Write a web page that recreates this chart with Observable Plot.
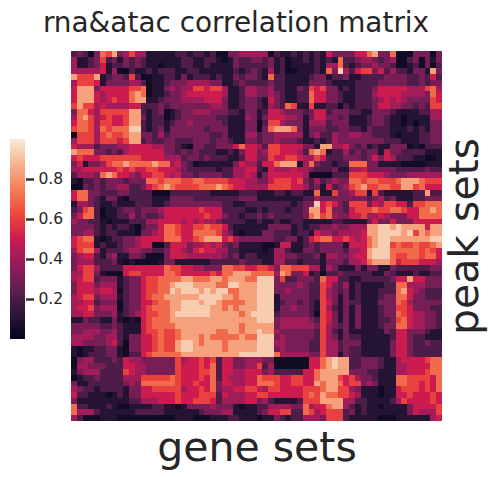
<!DOCTYPE html>
<html><head><meta charset="utf-8">
<script src="https://cdn.jsdelivr.net/npm/d3@7"></script>
<script src="https://cdn.jsdelivr.net/npm/@observablehq/plot@0.6"></script>
<style>html,body{margin:0;padding:0;background:#fff}#c{position:relative;width:497px;height:477px}svg{position:absolute;overflow:visible;background:transparent!important}</style>
</head><body><div id="c"></div><script>
const titleText = "rna&atac correlation matrix";
const xLabel = "gene sets";
const yLabel = "peak sets";
const colorbarTicks = [0.2, 0.4, 0.6, 0.8];
const rocketStops = [0, 0.125, 0.25, 0.375, 0.5, 0.625, 0.75, 0.875, 1];
const rocketColors = ["#03051a", "#2e1739", "#611f53", "#971c5b", "#cb1b4f", "#ef4a3c", "#f47f57", "#f6b48f", "#faebdd"];
// one digit per cell: tenths of the correlation
const matrixRows = [
"23203768 34644111 11221221 20033444 44021121 21215333 35578337 00033303",
"41123623 13232111 11122112 21013223 32312011 21212172 23443234 00230313",
"41123512 23232110 11122112 11113222 22312011 11214472 12334332 00120302",
"44444514 00211212 22112211 11112123 21412001 11217394 25663524 22133183",
"86668123 32620011 22131222 12113233 21722111 12331223 11222233 33223252",
"46665133 33442011 23334444 33112322 22322111 13332111 12222333 33223233",
"58883555 55667011 34344665 66411244 33422113 26563312 12223555 55444674",
"58885455 55787011 23345555 55411244 33432112 27553321 12224555 54444375",
"58885456 55788112 33344445 55311233 21532112 27553321 12223454 54333365",
"68664544 44552223 23333333 44311233 21432761 16112202 12223554 43323266",
"37754666 66882123 01233444 33322133 12554333 23552333 22113332 11112244",
"47864565 56883122 01233333 32211143 13555443 13553323 11123321 10111144",
"57764665 56882122 12334333 33211133 02664333 14442333 11123321 10101133",
"67764767 77992123 13333332 33311133 03788873 13332233 22132221 11212133",
"06664676 67883324 23333333 22311144 23344444 13422433 44332221 01112233",
"46664666 56882322 33222333 23321133 23343332 11212433 33333322 21112233",
"54442333 44555544 33210332 23335755 42665555 33188445 32312113 33010222",
"87773323 24555555 33232322 21121355 34665554 27871224 23233153 32222111",
"56555666 66665555 44423323 22211255 33655665 44652223 33235354 22211001",
"35133467 78777787 74532011 11113544 25578881 47322122 77733111 10000111",
"44555555 65655665 55432222 21224455 21544454 43222311 44533333 22222322",
"24443787 55435566 54533233 33224454 13555555 40000222 66655543 33444444",
"10223233 32333776 77766776 66655544 33566656 32423433 77677666 78887666",
"00323233 44223567 87666677 78765544 44666655 42315234 67866776 68867555",
"57733222 33222200 02222222 11111222 11122122 11711633 46616211 11122822",
"57732133 10222211 13333222 22222333 11111111 22433333 33323423 11122333",
"14432112 11122211 23333333 33221122 22222212 33956532 66635466 55266777",
"23672011 23323334 55555565 55222211 21222122 38857332 56667667 76557787",
"35772011 22423223 55555556 55322122 32322222 37867433 55644543 33557777",
"43322101 11222445 55545454 43222211 21121122 11111221 11135335 33355555",
"33332121 22102335 77655667 66521111 11333312 12233433 44488998 98888588",
"33442122 11103345 77655777 76431011 13322212 21544344 44588999 98968788",
"56771012 23345555 77755678 88564333 33322331 25677556 54578998 88888899",
"56661211 23345500 25553445 45323111 10015511 23233331 55578996 76676678",
"46774122 23443322 35543565 54422111 10144211 33233332 44589997 77776765",
"34552134 11332000 35554444 44323122 11144332 22314433 45589997 66776775",
"34442223 10100001 33111111 22222322 21144221 22213332 44578887 56665554",
"35664222 25555555 76655443 33776655 66537766 64414311 13133113 22222233",
"44663100 05665555 77655555 65778887 77748733 51202232 22221132 11121122",
"45662333 12335667 77788777 88788877 99936223 33275522 11222223 55855333",
"35553444 12335667 78999888 87799888 99933334 32265324 12111122 77444333",
"35554554 02335667 79899989 89977888 99933433 32264323 12111222 78543222",
"45663444 12335677 88888899 99887888 99913333 32264313 12111233 77533222",
"44552333 02335567 78899989 98777788 99912332 32165313 22111333 76433333",
"45563444 02335677 78899999 88787888 99913343 32164213 13111233 66533322",
"44553334 12345667 78999999 88888789 99923333 32065313 13111233 76544332",
"11322113 10105677 78888888 88888888 99934444 43265313 13111223 67544332",
"33333223 21115677 77888888 88888788 88834444 44364323 13111233 77544332",
"33444334 21115667 66788888 87788788 98843333 33264213 11111132 55333211",
"44443344 21335567 66788878 77777877 99934333 33264313 22111112 55322111",
"44333345 20335567 66899878 88788888 99944333 32264423 33111113 55322322",
"10112233 10335567 66899888 88788888 99934333 32264423 22111113 55322222",
"10122233 10225677 77788888 88888999 99974444 43364413 22111113 55322222",
"03442223 25443333 33645565 62553344 43300000 05578988 22333211 45555677",
"04433322 25544333 33655565 72553344 62400000 05578988 22333211 44555577",
"13444222 26544333 33655566 72554455 53422222 55788888 33322111 44555677",
"01223222 24446666 67655565 72544455 76665566 55788865 64332111 77666657",
"31122222 23437777 77655655 73554455 77765566 55878875 66343111 77665657",
"43221222 21335566 66645565 73445566 54665555 66678866 43111011 56665657",
"52211101 21335555 55655566 62544455 66555555 67687766 54111011 55655565",
"31111111 11224445 55655666 52444455 34211112 66688884 42211112 46555565",
"72211121 00111122 11013333 43331011 22444433 74557884 21211011 11355556",
"74442111 11122222 11111123 33441111 23556622 76456662 31211111 11354446",
"42000111 00000000 00111000 11122111 01132122 44436662 11111000 11111145"
];
const cells = matrixRows.flatMap((r, row) =>
  r.replace(/ /g, "").split("").map((d, col) => ({row, col, value: +d === 0 ? 0.04 : +d >= 8 ? +d / 10 + 0.03 : +d / 10})));
const colorScale = {type: "linear", domain: rocketStops, range: rocketColors, interpolate: "rgb", clamp: true};
const ink = "#262626";
const font = "DejaVu Sans";
const host = document.getElementById("c");

const main = Plot.plot({
  width: 497, height: 477,
  marginLeft: 71, marginRight: 55, marginTop: 51, marginBottom: 56,
  style: {fontFamily: font, background: "transparent"},
  x: {type: "band", axis: null, domain: d3.range(matrixRows[0].replace(/ /g, "").length), padding: 0, round: false},
  y: {type: "band", axis: null, domain: d3.range(matrixRows.length), padding: 0, round: false},
  color: colorScale,
  marks: [
    Plot.cell(cells, {x: "col", y: "row", fill: "value", shapeRendering: "crispEdges"}),
    Plot.text([titleText], {frameAnchor: "top", dx: -21, dy: -28, lineAnchor: "middle", fontSize: 27.9, fill: ink}),
    Plot.text([xLabel], {frameAnchor: "bottom", dy: 26, lineAnchor: "middle", fontSize: 41, fill: ink}),
    Plot.text([yLabel], {frameAnchor: "right", dx: 22, rotate: -90, textAnchor: "middle", lineAnchor: "middle", fontSize: 41, fill: ink})
  ]
});
main.style.left = "0px"; main.style.top = "0px";
host.appendChild(main);

const barSteps = d3.range(0, 1, 0.005);
const bar = Plot.plot({
  width: 70, height: 220,
  marginLeft: 10, marginRight: 45, marginTop: 10, marginBottom: 10,
  style: {fontFamily: font, background: "transparent", fontSize: "14px", color: ink},
  x: {axis: null, domain: [0, 1]},
  y: {domain: [0, 1], axis: null},
  color: colorScale,
  marks: [
    Plot.rect(barSteps, {x1: 0, x2: 1, y1: d => d, y2: d => d + 0.006, fill: d => d, shapeRendering: "crispEdges"}),
    Plot.axisY({anchor: "right", ticks: colorbarTicks, tickFormat: ".1f", tickSize: 8, tickPadding: 5, label: null, strokeWidth: 2.5, stroke: "#333333", fill: ink, fontSize: 15.5})
  ]
});
bar.style.left = "0px"; bar.style.top = "129px";
host.appendChild(bar);
</script></body></html>
